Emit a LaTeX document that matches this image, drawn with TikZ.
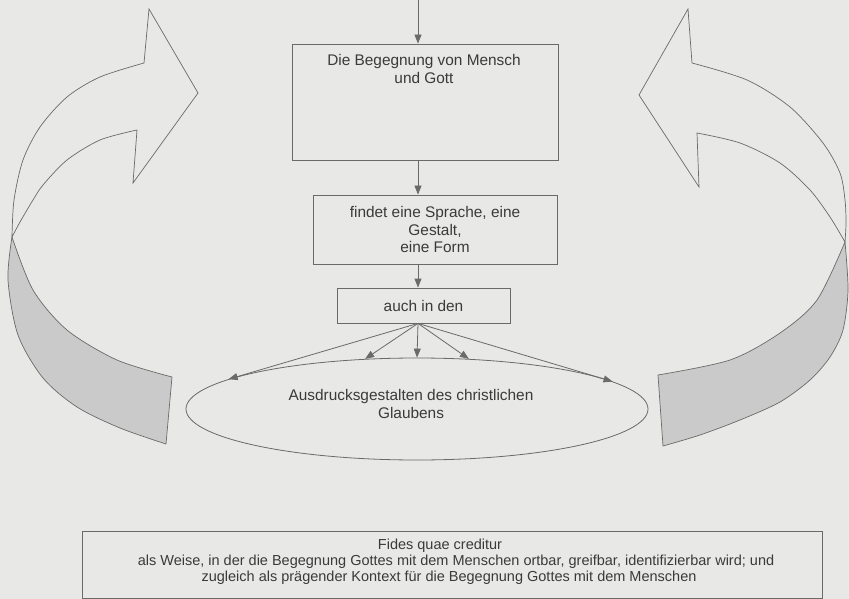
\documentclass[tikz,border=0pt]{standalone}
\usepackage{fontspec}
\setmainfont{Liberation Sans}
\usetikzlibrary{shapes.geometric,arrows.meta}
\definecolor{paper}{HTML}{E8E8E6}
\definecolor{ink}{HTML}{6A6A6A}
\definecolor{txtc}{HTML}{3A3A3A}
\definecolor{band}{HTML}{CACACA}
\begin{document}
\begin{tikzpicture}[x=1pt,y=-1pt,
  boxst/.style={draw=ink, line width=0.8pt, rectangle, inner sep=2pt, text=txtc, font=\fontsize{15.4}{17.5}\selectfont, align=center},
  txtst/.style={inner sep=0pt, text=txtc, font=\fontsize{15.4}{17.5}\selectfont, align=center},
  smalltxt/.style={inner sep=0pt, text=txtc, font=\fontsize{14.5}{16}\selectfont},
  arr/.style={draw=ink, line width=0.8pt, -{Triangle[length=9pt,width=7pt]}},
  ribbon/.style={draw=ink, line width=0.7pt, line join=miter},
  bandst/.style={ribbon, fill=band}]
\useasboundingbox (0,0) rectangle (849,599);
\fill[paper] (0,0) rectangle (849,599);

% left curved arrow
\path[bandst] (12,237) -- plot[smooth] coordinates {(12,237) (8,280) (18,335) (43,378) (77,407) (120,428) (166,444)}
  -- (172,377) -- plot[smooth] coordinates {(172,377) (117,360) (67,330) (33,290) (12,237)} -- cycle;
\path[ribbon] (144,63) -- plot[smooth] coordinates {(144,63) (100,77) (67,97) (40,127) (23,160) (14,200) (12,237)}
  -- plot[smooth] coordinates {(12,237) (20,222) (27,210) (33,200) (43,185) (67,160) (100,140) (137,130)}
  -- (133,183) -- (198,93) -- (149,9) -- cycle;

% right curved arrow
\path[bandst] (845,242) -- plot[smooth] coordinates {(845,242) (848,290) (843,330) (830,357) (810,380) (780,402) (740,420) (700,435) (663,446)}
  -- (658,375) -- plot[smooth] coordinates {(658,375) (730,360) (780,333) (817,300) (845,242)} -- cycle;
\path[ribbon] (692,63) -- plot[smooth] coordinates {(692,63) (747,80) (790,107) (823,143) (840,173) (845,200) (846,223) (845,242)}
  -- plot[smooth] coordinates {(845,242) (830,217) (810,190) (780,163) (740,143) (697,133)}
  -- (699,187) -- (639,95) -- (688,9) -- cycle;

% boxes
\node[boxst, minimum width=266pt, minimum height=116pt] (b1) at (425,102) {};
\node[txtst] (t1) at (424,69) {Die Begegnung von Mensch\\und Gott};
\node[boxst, minimum width=244pt, minimum height=69pt] (b2) at (435,229.5) {findet eine Sprache, eine\\Gestalt,\\eine Form};
\node[boxst, minimum width=173pt, minimum height=35pt] (b3) at (423.5,305.5) {auch in den};
\node[ellipse, draw=ink, line width=0.8pt, minimum width=462pt, minimum height=102pt, inner sep=0pt] (el) at (417,409) {};
\node[txtst] (et) at (411,404) {Ausdrucksgestalten des christlichen\\Glaubens};

% connectors
\coordinate (top) at (418,0);
\draw[arr] (top) -- (top |- b1.north);
\draw[arr] (b1.south -| top) -- (b2.north -| top);
\draw[arr] (b2.south -| top) -- (b3.north -| top);
\coordinate (fan) at (b3.south -| top);
\draw[arr] (fan) -- (el.north);
\draw[arr] (fan) -- (el.136);
\draw[arr] (fan) -- (el.44);
\draw[arr] (fan) -- (el.171.8);
\draw[arr] (fan) -- (el.8.1);

% bottom box
\node[boxst, minimum width=740pt, minimum height=67pt] (fb) at (452,564.5) {};
\node[smalltxt] (f1) at (440,546) {Fides quae creditur};
\node[smalltxt] (f2) at (456,562) {als Weise, in der die Begegnung Gottes mit dem Menschen ortbar, greifbar, identifizierbar wird; und};
\node[smalltxt] (f3) at (449,578) {zugleich als prägender Kontext für die Begegnung Gottes mit dem Menschen};
\end{tikzpicture}
\end{document}
